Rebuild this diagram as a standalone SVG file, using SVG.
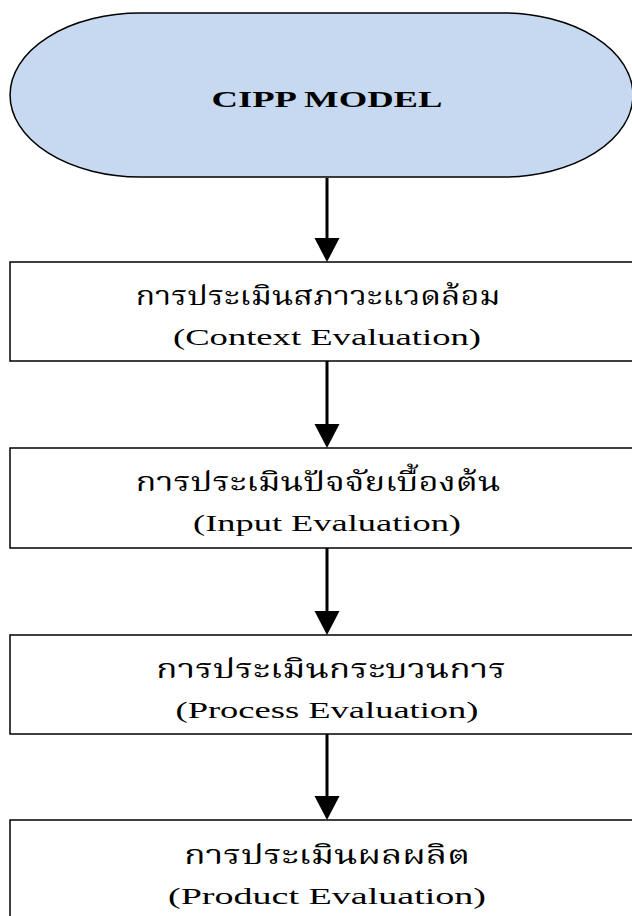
<svg xmlns="http://www.w3.org/2000/svg" width="632" height="916" viewBox="0 0 632 916">
  <style>
    .box { fill: #ffffff; stroke: #000000; stroke-width: 1.5; }
    .start { fill: #c6d9f0; stroke: #000000; stroke-width: 1.5; }
    .th { font-family: "Noto Serif Thai", "Noto Sans Thai", "Liberation Serif", serif; font-size: 26px; fill: #000; }
    .en { font-family: "Liberation Serif", "Times New Roman", serif; font-size: 24px; fill: #000; }
    .title { font-family: "Liberation Serif", "Times New Roman", serif; font-size: 24px; font-weight: bold; fill: #000; }
    .edge { stroke: #000000; stroke-width: 3; fill: none; }
    .head { fill: #000000; }
  </style>
  <rect width="632" height="916" fill="#ffffff"/>
  <g id="node-cipp">
    <path class="start" d="M140,13 H503 A130,82 0 0 1 503,177 H140 A130,82 0 0 1 140,13 Z"/>
    <text class="title" x="327" y="107" text-anchor="middle" textLength="231" lengthAdjust="spacingAndGlyphs">CIPP MODEL</text>
  </g>
  <g id="node-context">
    <rect class="box" x="10" y="262" width="640" height="99"/>
    <text class="th" x="318" y="305" text-anchor="middle" textLength="365" lengthAdjust="spacingAndGlyphs">การประเมินสภาวะแวดล้อม</text>
    <text class="en" x="327" y="345" text-anchor="middle" textLength="308" lengthAdjust="spacingAndGlyphs">(Context Evaluation)</text>
  </g>
  <g id="node-input">
    <rect class="box" x="10" y="448" width="640" height="100"/>
    <text class="th" x="318" y="491" text-anchor="middle" textLength="365" lengthAdjust="spacingAndGlyphs">การประเมินปัจจัยเบื้องต้น</text>
    <text class="en" x="327" y="531" text-anchor="middle" textLength="268" lengthAdjust="spacingAndGlyphs">(Input Evaluation)</text>
  </g>
  <g id="node-process">
    <rect class="box" x="10" y="635" width="640" height="99"/>
    <text class="th" x="331" y="678" text-anchor="middle" textLength="350" lengthAdjust="spacingAndGlyphs">การประเมินกระบวนการ</text>
    <text class="en" x="327" y="718" text-anchor="middle" textLength="303" lengthAdjust="spacingAndGlyphs">(Process Evaluation)</text>
  </g>
  <g id="node-product">
    <rect class="box" x="10" y="820" width="640" height="120"/>
    <text class="th" x="327" y="864" text-anchor="middle" textLength="286" lengthAdjust="spacingAndGlyphs">การประเมินผลผลิต</text>
    <text class="en" x="327" y="904" text-anchor="middle" textLength="318" lengthAdjust="spacingAndGlyphs">(Product Evaluation)</text>
  </g>
  <g id="connectors">
    <line class="edge" x1="327" y1="178" x2="327" y2="240"/>
    <polygon class="head" points="314.5,238 339.5,238 327,262"/>
    <line class="edge" x1="327" y1="361" x2="327" y2="426"/>
    <polygon class="head" points="314.5,424 339.5,424 327,448"/>
    <line class="edge" x1="327" y1="548" x2="327" y2="613"/>
    <polygon class="head" points="314.5,611 339.5,611 327,635"/>
    <line class="edge" x1="327" y1="734" x2="327" y2="798"/>
    <polygon class="head" points="314.5,796 339.5,796 327,820"/>
  </g>
</svg>
